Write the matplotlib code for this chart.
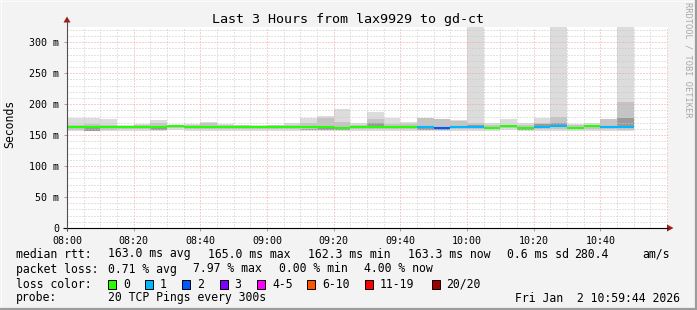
import matplotlib
matplotlib.use('Agg')
import matplotlib.pyplot as plt
from matplotlib.patches import Rectangle, Polygon

# ---------------- data ----------------
times = ["08:00", "08:05", "08:10", "08:15", "08:20", "08:25", "08:30", "08:35", "08:40", "08:45",
         "08:50", "08:55", "09:00", "09:05", "09:10", "09:15", "09:20", "09:25", "09:30", "09:35",
         "09:40", "09:45", "09:50", "09:55", "10:00", "10:05", "10:10", "10:15", "10:20", "10:25",
         "10:30", "10:35", "10:40", "10:45"]
median_ms = [162.5, 163.5, 162.5, 162.5, 162.5, 163.0, 165.0, 163.0, 162.5, 162.5,
             162.5, 162.5, 163.5, 162.5, 162.5, 163.0, 162.0, 162.5, 163.5, 162.5,
             162.5, 163.5, 161.5, 162.5, 162.5, 162.0, 164.0, 162.0, 163.0, 164.0,
             162.0, 164.0, 163.0, 163.0]
loss_count = [0, 0, 0, 0, 0, 0, 0, 0, 0, 0,
              0, 0, 0, 0, 0, 0, 0, 0, 0, 0,
              0, 1, 2, 1, 1, 0, 0, 0, 1, 1,
              0, 0, 1, 1]
smoke_max = [178, 177, 176, 166, 168, 174, 167, 168, 171, 168,
             167, 166, 167, 169, 178, 181, 192, 170, 187, 178,
             171, 178, 176, 174, 330, 169, 176, 170, 178, 330,
             168, 169, 176, 330]
smoke_min = [156, 156, 156, 157, 157, 156, 158, 157, 157, 157,
             157, 157, 157, 157, 156, 156, 156, 157, 157, 157,
             157, 156, 156, 157, 157, 157, 158, 157, 157, 157,
             157, 157, 157, 156]
mid_hi = [167, 168, 166, 165, 166, 170, 167, 166, 170, 166,
          166, 165, 166, 167, 170, 178, 172, 167, 176, 168,
          168, 178, 176, 173, 169, 166, 167, 167, 170, 180,
          166, 166, 176, 204]
mid_lo = [159, 159, 159, 160, 160, 159, 161, 160, 160, 160,
          160, 160, 160, 160, 159, 159, 159, 160, 160, 160,
          160, 159, 159, 160, 160, 160, 161, 160, 160, 160,
          160, 160, 160, 159]
dark_lo = [161, 157, 161, 161, 161, 158, 163, 161, 161, 161,
           161, 161, 161, 161, 158, 158, 158, 161, 165, 161,
           161, 158, 158, 161, 164, 161, 162, 158, 165, 166,
           161, 162, 161, 165]
dark_hi = [161, 161.5, 161, 161, 161, 161, 163, 161, 161, 161,
           161, 161, 161, 161, 160.5, 161, 160.5, 161, 170, 161,
           161, 161.5, 160, 161, 166, 161, 162, 160.5, 168, 169,
           161, 162, 161, 178]

loss_labels = ["0", "1", "2", "3", "4-5", "6-10", "11-19", "20/20"]
loss_colors = ["#26ff00", "#00b8ff", "#0059ff", "#7e00ff", "#ff00ff", "#ff5500", "#ff0000", "#a10000"]

x_ticks = ["08:00", "08:20", "08:40", "09:00", "09:20", "09:40", "10:00", "10:20", "10:40"]
y_ticks = [0, 50, 100, 150, 200, 250, 300]
y_tick_labels = ["0", "50 m", "100 m", "150 m", "200 m", "250 m", "300 m"]

title = "Last 3 Hours from lax9929 to gd-ct"
legend_rtt = [("median rtt:", 16), ("163.0 ms avg", 107.5), ("165.0 ms max", 207.5),
              ("162.3 ms min", 307.5), ("163.3 ms now", 407.5), ("0.6 ms sd", 507),
              ("280.4", 574), ("am/s", 642)]
legend_loss = [("packet loss:", 16), ("0.71 % avg", 107.5), ("7.97 % max", 193),
               ("0.00 % min", 279), ("4.00 % now", 364)]
probe_text = "20 TCP Pings every 300s"
date_text = "Fri Jan  2 10:59:44 2026"

BIN = 5  # minutes per bin


def to_min(t):
    h, m = t.split(":")
    return (int(h) - 8) * 60 + int(m)


def color_for_loss(n):
    if n == 0:
        return loss_colors[0]
    if n == 1:
        return loss_colors[1]
    if n == 2:
        return loss_colors[2]
    if n == 3:
        return loss_colors[3]
    if n <= 5:
        return loss_colors[4]
    if n <= 10:
        return loss_colors[5]
    if n <= 19:
        return loss_colors[6]
    return loss_colors[7]


# ---------------- figure ----------------
W, H = 697, 310
MONO = "DejaVu Sans Mono"
fig = plt.figure(figsize=(W / 100, H / 100), dpi=100)
fig.patch.set_facecolor("#f3f3f3")


def fx(x):
    return x / W


def fy(y):
    return 1 - y / H


X0, X1 = 67, 668
Y0, Y1 = 228, 27.3
ax = fig.add_axes([fx(X0), fy(Y0), (X1 - X0) / W, (Y0 - Y1) / H])
ax.set_facecolor("white")
ax.set_xlim(0, 180.3)
ax.set_ylim(0, 324.2)
for s in ax.spines.values():
    s.set_visible(False)

xs = [to_min(t) for t in times]

# smoke
ax.bar(xs, [a - b for a, b in zip(smoke_max, smoke_min)], bottom=smoke_min, width=BIN,
       align="edge", color="#dcdcdc", linewidth=0, zorder=2)
ax.bar(xs, [a - b for a, b in zip(mid_hi, mid_lo)], bottom=mid_lo, width=BIN,
       align="edge", color="#c4c4c4", linewidth=0, zorder=2.1)
ax.bar(xs, [a - b for a, b in zip(dark_hi, dark_lo)], bottom=dark_lo, width=BIN,
       align="edge", color="#9a9a9a", linewidth=0, zorder=2.2)

# grid (drawn over smoke)
for m in range(5, 181, 5):
    major = (m % 20 == 0)
    ax.axvline(m, color="#f2a0a0" if major else "#c8c8c8", lw=0.72,
               linestyle=(0, (1, 2)), zorder=3)
for v in range(10, 325, 10):
    major = (v % 50 == 0)
    ax.axhline(v, color="#f2a0a0" if major else "#c8c8c8", lw=0.72,
               linestyle=(0, (1, 2)), zorder=3)

# median line coloured by loss
ax.hlines(median_ms, xs, [x + BIN for x in xs],
          colors=[color_for_loss(n) for n in loss_count], lw=1.5, zorder=4)

ax.set_xticks([to_min(t) for t in x_ticks])
ax.set_xticklabels(x_ticks, fontfamily=MONO, fontsize=7.2)
ax.set_yticks(y_ticks)
ax.set_yticklabels(y_tick_labels, fontfamily=MONO, fontsize=7.2)
ax.tick_params(axis="both", length=2.5, width=0.7, color="#a0a0a0", pad=3)

# ---------------- overlay for decorations ----------------
ov = fig.add_axes([0, 0, 1, 1], zorder=10)
ov.set_xlim(0, W)
ov.set_ylim(H, 0)
ov.axis("off")
ov.patch.set_alpha(0)

# axes lines and arrows
ov.plot([63, 668], [228, 228], color="black", lw=0.8, solid_capstyle="butt")
ov.plot([67, 67], [231, 21], color="#505050", lw=0.8, solid_capstyle="butt")
ov.add_patch(Polygon([(63.5, 22.5), (70.5, 22.5), (67, 16.5)], closed=True,
                     color="#a01c1c", lw=0))
ov.add_patch(Polygon([(667, 224.5), (667, 231.5), (673.5, 228)], closed=True,
                     color="#a01c1c", lw=0))

# border (3D shading)
ov.plot([0, W], [0.5, 0.5], color="#fcfcfc", lw=0.8)
ov.plot([0.5, 0.5], [0, H], color="#fcfcfc", lw=0.8)
ov.plot([W - 1.5, W - 1.5], [0, H], color="#9c9c9c", lw=1.6)
ov.plot([0, W], [H - 1.5, H - 1.5], color="#9c9c9c", lw=1.6)

# title, labels, watermark
ov.text(348.5, 19, title, ha="center", va="center", fontfamily=MONO, fontsize=9.6)
ov.text(10, 124, "Seconds", rotation=90, ha="center", va="center",
        fontfamily=MONO, fontsize=8.3)
ov.text(688, 60, "RRDTOOL / TOBI OETIKER", rotation=270, ha="center", va="center",
        fontfamily=MONO, fontsize=6.2, color="#a8a8a8")

# legend rows
for txt, x in legend_rtt:
    ov.text(x, 254, txt, ha="left", va="center", fontfamily=MONO, fontsize=8.3)
for txt, x in legend_loss:
    ov.text(x, 269, txt, ha="left", va="center", fontfamily=MONO, fontsize=8.3)

ov.text(16, 284, "loss color:", ha="left", va="center", fontfamily=MONO, fontsize=8.3)
box_x = [108, 145, 182, 219.5, 257, 307, 365, 431.5]
for bx, lab, col in zip(box_x, loss_labels, loss_colors):
    ov.add_patch(Rectangle((bx, 279.5), 8, 9, facecolor=col, edgecolor="black", lw=0.7))
    ov.text(bx + 15, 284, lab, ha="left", va="center", fontfamily=MONO, fontsize=8.3)

ov.text(16, 298, "probe:", ha="left", va="center", fontfamily=MONO, fontsize=8.3)
ov.text(107.5, 298, probe_text, ha="left", va="center", fontfamily=MONO, fontsize=8.3)
ov.text(680, 298, date_text, ha="right", va="center", fontfamily=MONO, fontsize=8.3)

fig.savefig("out.png", dpi=100, facecolor=fig.get_facecolor())
